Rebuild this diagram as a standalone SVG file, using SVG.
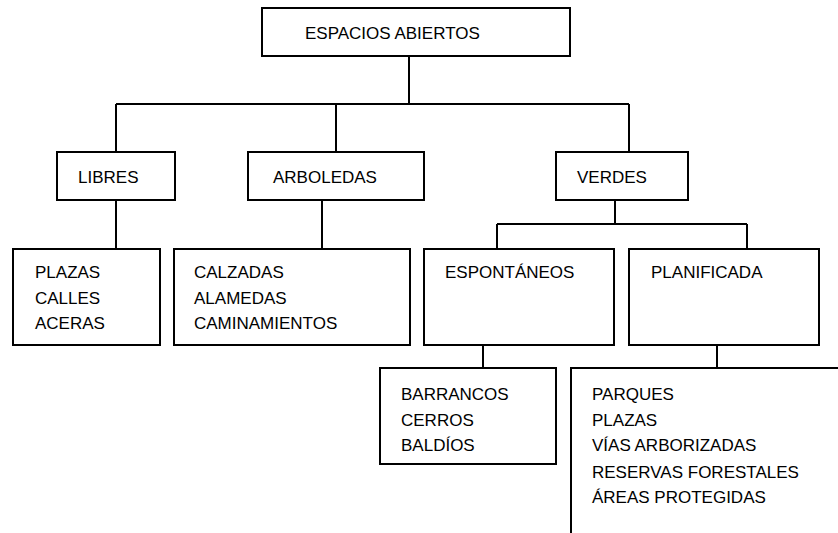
<svg xmlns="http://www.w3.org/2000/svg" width="838" height="533" viewBox="0 0 838 533">
<style>
.box{fill:#fff;stroke:#000;stroke-width:2}
.ln{fill:none;stroke:#000;stroke-width:2}
text{font-family:"Liberation Sans",Arial,sans-serif;font-size:17px;fill:#000}
</style>
<rect width="838" height="533" fill="#fff"/>
<g id="connectors">
<path class="ln" d="M409 56V104M116 104H629M116 104V152M336 104V152M629 104V152"/>
<path class="ln" d="M116 200V249M322 200V249M615 200V224M497 224H747M497 224V249M747 224V249"/>
<path class="ln" d="M483 345V368M717 345V368"/>
</g>
<g id="espacios-abiertos"><rect class="box" x="262" y="8" width="308" height="48"/><text x="305" y="39">ESPACIOS ABIERTOS</text></g>
<g id="libres"><rect class="box" x="57" y="152" width="118" height="48"/><text x="78" y="183">LIBRES</text></g>
<g id="arboledas"><rect class="box" x="248" y="152" width="176" height="48"/><text x="273" y="183">ARBOLEDAS</text></g>
<g id="verdes"><rect class="box" x="556" y="152" width="132" height="48"/><text x="577" y="183">VERDES</text></g>
<g id="libres-list"><rect class="box" x="13" y="249" width="147" height="96"/><text x="35" y="278">PLAZAS</text><text x="35" y="303.5">CALLES</text><text x="35" y="329">ACERAS</text></g>
<g id="arboledas-list"><rect class="box" x="174" y="249" width="236" height="96"/><text x="194" y="278">CALZADAS</text><text x="194" y="303.5">ALAMEDAS</text><text x="194" y="329">CAMINAMIENTOS</text></g>
<g id="espontaneos"><rect class="box" x="424" y="249" width="190" height="96"/><text x="445" y="278">ESPONTÁNEOS</text></g>
<g id="planificada"><rect class="box" x="629" y="249" width="190" height="96"/><text x="651" y="278">PLANIFICADA</text></g>
<g id="espontaneos-list"><rect class="box" x="380" y="368" width="176" height="96"/><text x="401" y="400">BARRANCOS</text><text x="401" y="426">CERROS</text><text x="401" y="451">BALDÍOS</text></g>
<g id="planificada-list"><path class="ln" d="M571 533V368H840"/><text x="592" y="400">PARQUES</text><text x="592" y="426">PLAZAS</text><text x="592" y="451">VÍAS ARBORIZADAS</text><text x="592" y="478">RESERVAS FORESTALES</text><text x="592" y="503">ÁREAS PROTEGIDAS</text></g>
</svg>
